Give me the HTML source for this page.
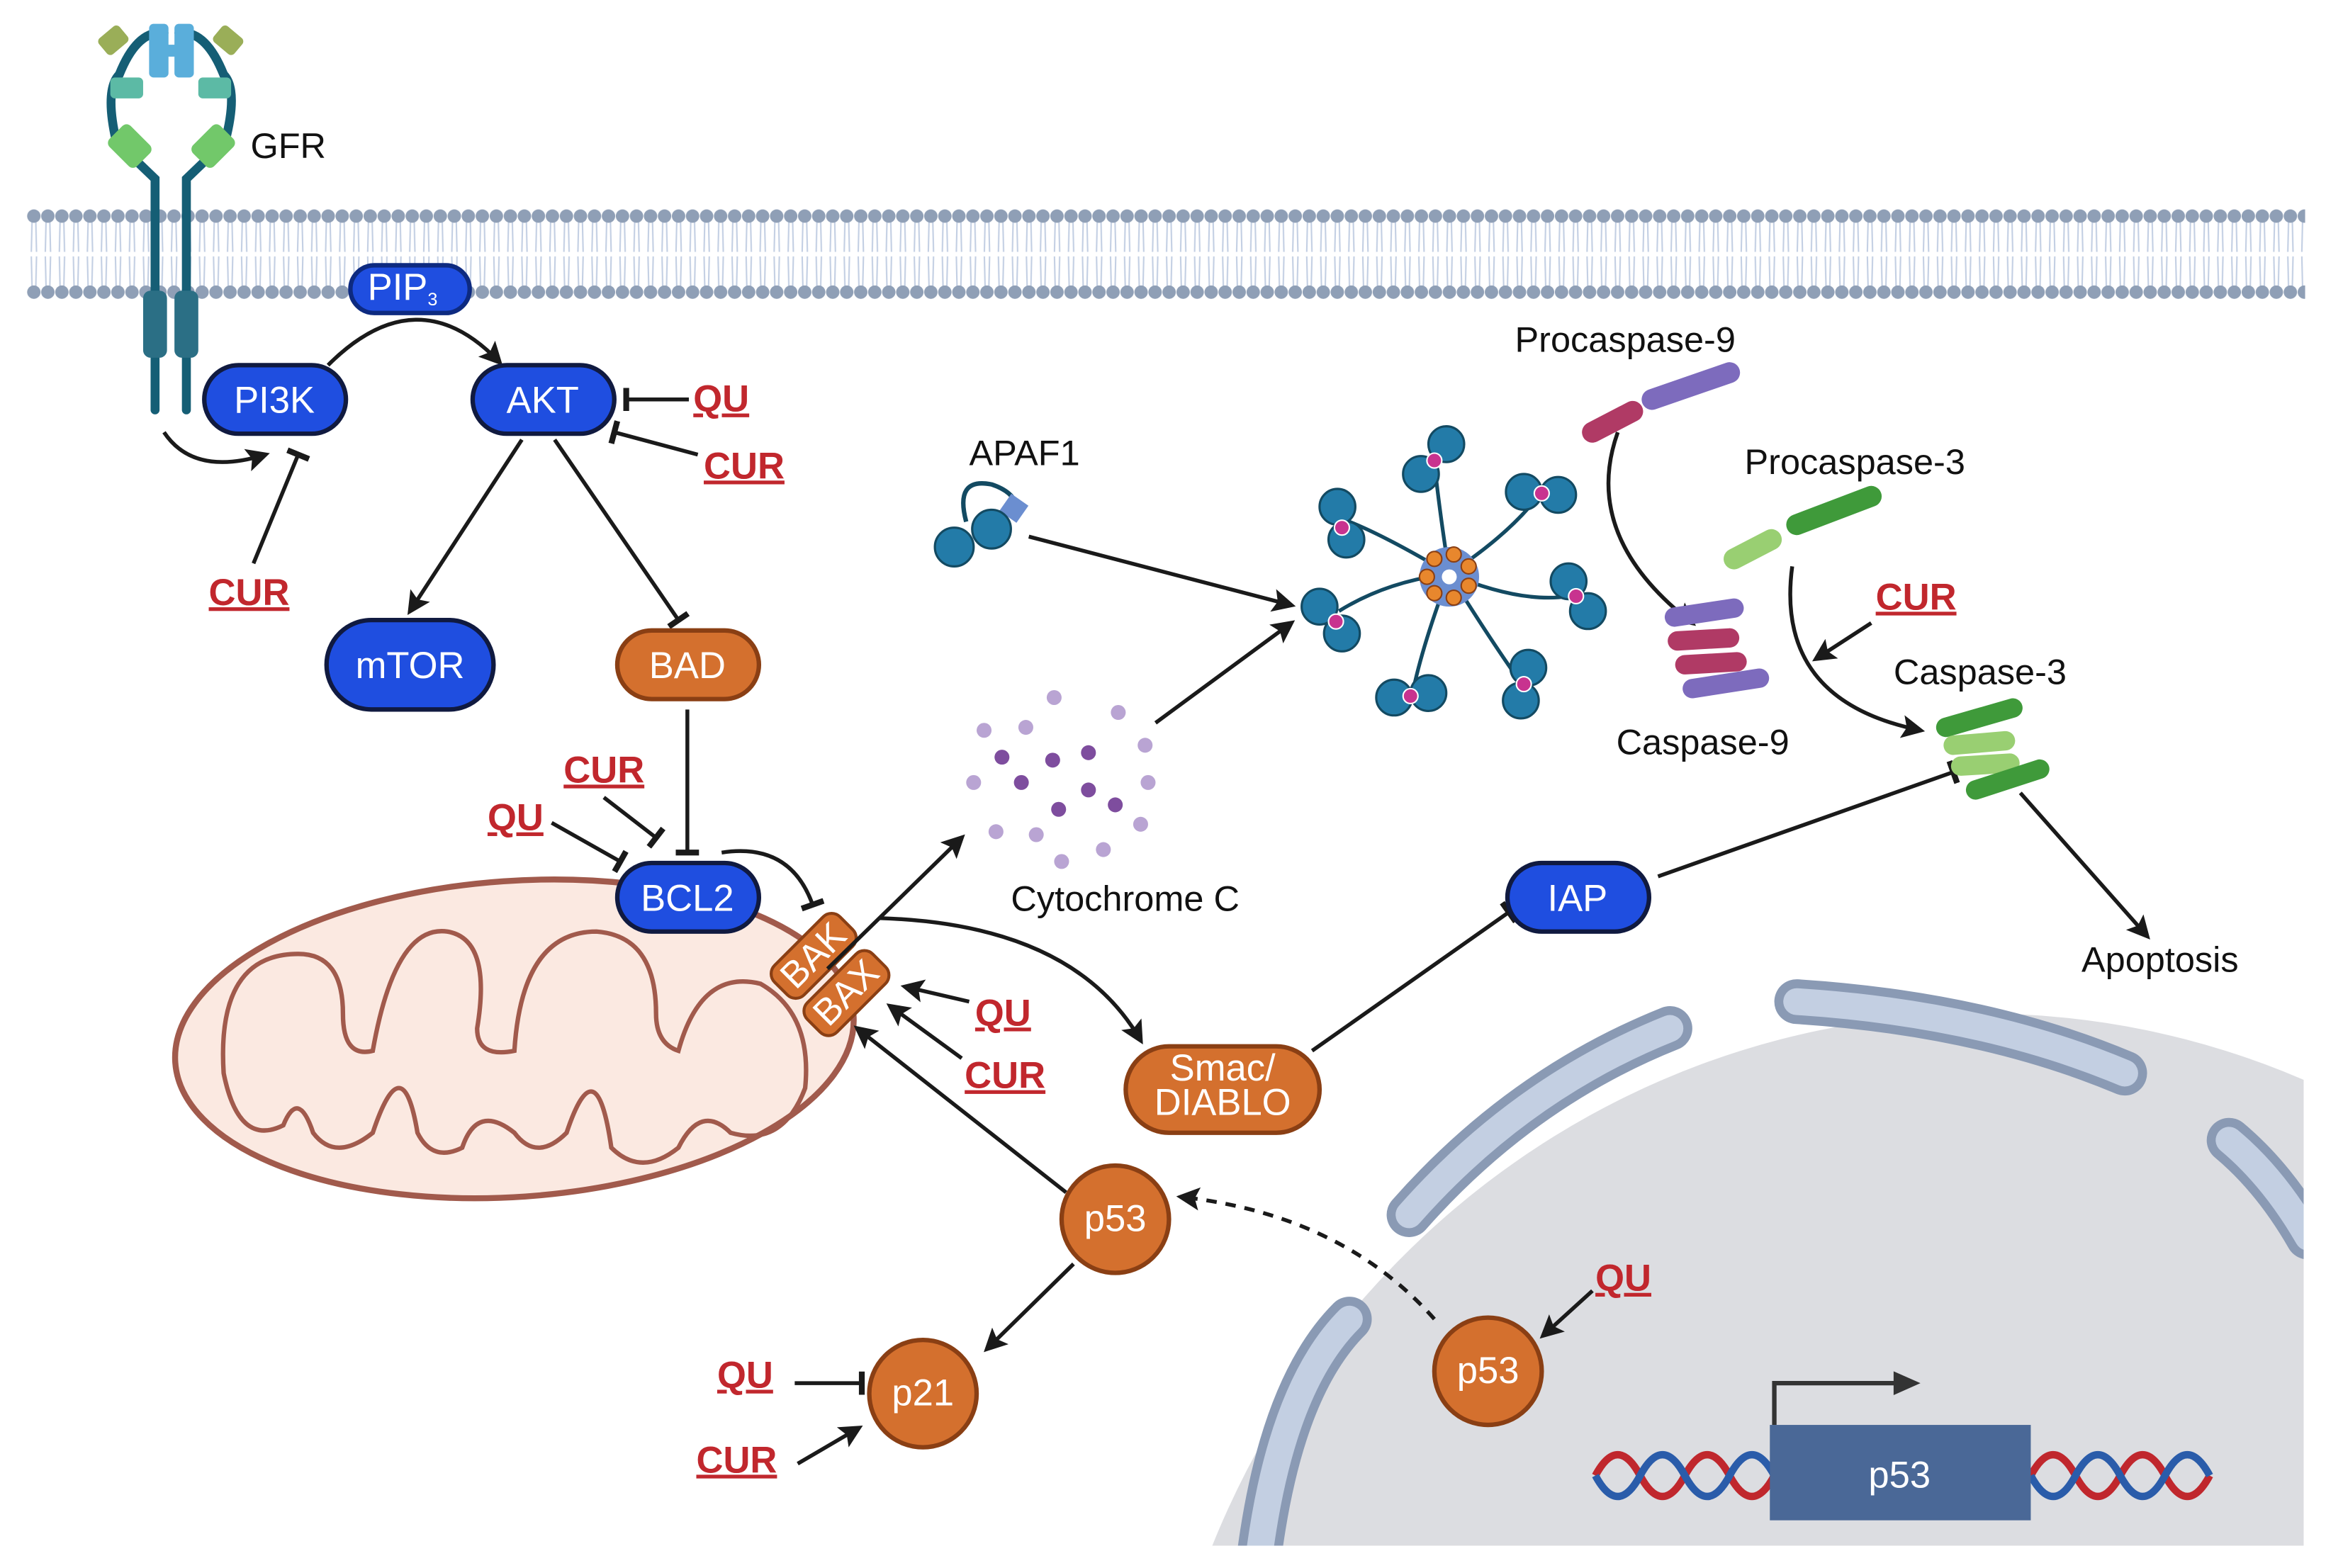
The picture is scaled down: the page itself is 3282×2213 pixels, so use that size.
<!DOCTYPE html>
<html><head><meta charset="utf-8"><style>
html,body{margin:0;padding:0;background:#fff;overflow:hidden;width:3282px;height:2213px;}
svg{display:block;}
text{font-family:"Liberation Sans",sans-serif;}
.node{font-size:25px;fill:#fff;text-anchor:middle;}
.red{font-size:25px;fill:#c1272d;font-weight:bold;text-decoration:underline;}
.lbl{font-size:24px;fill:#111;}
.ln{stroke:#1a1a1a;stroke-width:2.6;fill:none;}
</style></head><body>
<svg width="3282" height="2213" viewBox="0 0 1560 1052" preserveAspectRatio="none" xmlns="http://www.w3.org/2000/svg">
<defs>
<marker id="ar" viewBox="0 0 10 10" refX="8" refY="5" markerWidth="6" markerHeight="6" orient="auto-start-reverse" markerUnits="strokeWidth"><path d="M0,0 L10,5 L0,10 L2,5z" fill="#1a1a1a"/></marker>
<marker id="tb" viewBox="0 0 4 12" refX="2" refY="6" markerWidth="3" markerHeight="6" orient="auto" markerUnits="strokeWidth"><rect x="0.5" y="0" width="3" height="12" fill="#1a1a1a"/></marker>
<pattern id="mem" x="18" y="138" width="9.4" height="64" patternUnits="userSpaceOnUse">
<path d="M3.5,10 L3,31 M6,10 L6.5,31 M3,34 L3.5,55 M6.5,34 L6,55" stroke="#c3cfe3" stroke-width="1"/>
<circle cx="4.7" cy="7" r="4.5" fill="#8f9fb6"/><circle cx="4.7" cy="58" r="4.5" fill="#8f9fb6"/>
</pattern>
<clipPath id="clipN"><rect x="0" y="0" width="1545" height="1037"/></clipPath>
</defs>
<rect width="1560" height="1052" fill="#fff"/>
<!-- membrane -->
<rect x="18" y="138" width="1528" height="64" fill="url(#mem)"/>
<!-- nucleus -->
<g clip-path="url(#clipN)">
<ellipse cx="1330" cy="1260" rx="560" ry="580" fill="#dcdde1"/>
<g fill="none" stroke-linecap="round">
<g stroke="#8a9ab4" stroke-width="30">
<path d="M845,1040 Q860,930 905,885"/><path d="M945,815 Q1020,730 1120,690"/><path d="M1205,672 Q1330,680 1425,720"/><path d="M1495,765 Q1525,790 1548,830"/></g>
<g stroke="#c3cfe2" stroke-width="18">
<path d="M845,1040 Q860,930 905,885"/><path d="M945,815 Q1020,730 1120,690"/><path d="M1205,672 Q1330,680 1425,720"/><path d="M1495,765 Q1525,790 1548,830"/></g>
</g>
</g>
<!-- DNA -->
<g fill="none" stroke-width="5">
<path d="M1070,990 q15,-28 30,0 t30,0 t30,0 t30,0 M1362,990 q15,-28 30,0 t30,0 t30,0 t30,0" stroke="#c0272d"/>
<path d="M1070,990 q15,28 30,0 t30,0 t30,0 t30,0 M1362,990 q15,28 30,0 t30,0 t30,0 t30,0" stroke="#2a5caa"/>
</g>
<rect x="1187" y="956" width="175" height="64" fill="#4a6897"/>
<text x="1274" y="998" class="node" font-size="27">p53</text>
<path d="M1190,956 V928 H1280" stroke="#333" stroke-width="3" fill="none"/>
<path d="M1270,920 L1288,928 L1270,936z" fill="#333"/>
<!-- GFR -->
<g fill="none" stroke="#155e75" stroke-width="6" stroke-linecap="round">
<path d="M104,275 V120 L78,95 Q70,60 80,50 Q92,20 110,22"/>
<path d="M125,275 V120 L151,95 Q160,60 150,50 Q138,20 120,22"/>
</g>
<rect x="96" y="195" width="16" height="45" rx="5" fill="#2b6f85"/><rect x="117" y="195" width="16" height="45" rx="5" fill="#2b6f85"/>
<rect x="74" y="88" width="26" height="20" rx="4" fill="#72c86a" transform="rotate(45 87 98)"/>
<rect x="130" y="88" width="26" height="20" rx="4" fill="#72c86a" transform="rotate(-45 143 98)"/>
<rect x="74" y="52" width="22" height="14" rx="3" fill="#5cbaa5"/><rect x="133" y="52" width="22" height="14" rx="3" fill="#5cbaa5"/>
<rect x="100" y="16" width="13" height="36" rx="3" fill="#5aaedb"/><rect x="117" y="16" width="13" height="36" rx="3" fill="#5aaedb"/><rect x="110" y="30" width="10" height="8" fill="#5aaedb"/>
<rect x="67" y="20" width="18" height="14" rx="3" fill="#9aae58" transform="rotate(-40 76 27)"/>
<rect x="144" y="20" width="18" height="14" rx="3" fill="#9aae58" transform="rotate(40 153 27)"/>
<text x="168" y="106" class="lbl" font-size="26">GFR</text>
<!-- mitochondrion -->
<ellipse cx="345" cy="697" rx="228" ry="106" transform="rotate(-4 345 697)" fill="#fbe9e1" stroke="#a15a4c" stroke-width="4"/>
<path d="M150,720 Q145,640 200,640 Q230,640 230,680 Q230,710 250,705 Q265,620 300,625 Q330,630 320,690 Q320,710 345,705 Q350,625 400,625 Q440,628 440,680 Q440,700 455,705 Q470,650 510,660 Q545,680 540,730 Q525,770 490,760 Q470,740 455,770 Q430,790 410,770 Q400,700 380,760 Q360,780 345,760 Q320,740 310,770 Q290,780 280,760 Q270,700 250,760 Q225,780 210,760 Q200,730 190,755 Q160,770 150,720z" fill="none" stroke="#a15a4c" stroke-width="3"/>
<!-- BAK BAX -->
<g transform="rotate(-45 545 642)"><rect x="515" y="628" width="62" height="28" rx="8" fill="#d4702e" stroke="#8a3f14" stroke-width="2"/><text x="546" y="650" class="node" font-size="18">BAK</text></g>
<g transform="rotate(-45 567 667)"><rect x="537" y="653" width="62" height="28" rx="8" fill="#d4702e" stroke="#8a3f14" stroke-width="2"/><text x="568" y="675" class="node" font-size="18">BAX</text></g>
<!-- connectors -->
<path class="ln" d="M110,290 Q130,320 178,305" marker-end="url(#ar)"/>
<path class="ln" d="M220,245 Q280,185 335,243" marker-end="url(#ar)"/>
<path class="ln" d="M170,378 L200,305" marker-end="url(#tb)"/>
<path class="ln" d="M462,268 L420,268" marker-end="url(#tb)"/>
<path class="ln" d="M468,305 L412,290" marker-end="url(#tb)"/>
<path class="ln" d="M350,295 L275,410" marker-end="url(#ar)"/>
<path class="ln" d="M372,295 L455,416" marker-end="url(#tb)"/>
<path class="ln" d="M461,476 L461,572" marker-end="url(#tb)"/>
<path class="ln" d="M405,535 L440,562" marker-end="url(#tb)"/>
<path class="ln" d="M370,552 L416,578" marker-end="url(#tb)"/>
<path class="ln" d="M484,572 Q530,565 545,607" marker-end="url(#tb)"/>
<path class="ln" d="M555,650 L645,562" marker-end="url(#ar)"/>
<path class="ln" d="M590,616 Q720,620 765,698" marker-end="url(#ar)"/>
<path class="ln" d="M650,672 L607,662" marker-end="url(#ar)"/>
<path class="ln" d="M645,710 L597,675" marker-end="url(#ar)"/>
<path class="ln" d="M715,800 L575,690" marker-end="url(#ar)"/>
<path class="ln" d="M690,360 L866,406" marker-end="url(#ar)"/>
<path class="ln" d="M775,485 L866,418" marker-end="url(#ar)"/>
<path class="ln" d="M1085,290 Q1060,360 1135,418" marker-end="url(#ar)"/>
<path class="ln" d="M1202,380 Q1190,470 1288,490" marker-end="url(#ar)"/>
<path class="ln" d="M1255,418 L1218,442" marker-end="url(#ar)"/>
<path class="ln" d="M1355,532 L1440,628" marker-end="url(#ar)"/>
<path class="ln" d="M1112,588 L1310,518" marker-end="url(#tb)"/>
<path class="ln" d="M880,705 L1012,612" marker-end="url(#tb)"/>
<path class="ln" d="M962,885 Q900,815 792,803" stroke-dasharray="7,6" marker-end="url(#ar)"/>
<path class="ln" d="M1068,866 L1035,896" marker-end="url(#ar)"/>
<path class="ln" d="M720,848 L662,905" marker-end="url(#ar)"/>
<path class="ln" d="M533,928 L578,928" marker-end="url(#tb)"/>
<path class="ln" d="M535,982 L576,958" marker-end="url(#ar)"/>
<!-- nodes -->
<g stroke="#101a40" stroke-width="3">
<rect x="235" y="178" width="80" height="32" rx="16" fill="#1f4ee0" stroke="#0d2a80"/>
<rect x="137" y="245" width="95" height="46" rx="23" fill="#1f4ee0"/>
<rect x="317" y="245" width="95" height="46" rx="23" fill="#1f4ee0"/>
<rect x="219" y="416" width="112" height="60" rx="30" fill="#1f4ee0"/>
<rect x="414" y="423" width="95" height="46" rx="23" fill="#d4702e" stroke="#8a3f14"/>
<rect x="414" y="579" width="95" height="46" rx="23" fill="#1f4ee0"/>
<rect x="1011" y="579" width="95" height="46" rx="23" fill="#1f4ee0"/>
<rect x="755" y="702" width="130" height="58" rx="29" fill="#d4702e" stroke="#8a3f14"/>
<circle cx="748" cy="818" r="36" fill="#d4702e" stroke="#8a3f14"/>
<circle cx="619" cy="935" r="36" fill="#d4702e" stroke="#8a3f14"/>
<circle cx="998" cy="920" r="36" fill="#d4702e" stroke="#8a3f14"/>
</g>
<text x="270" y="201" class="node" font-size="19">PIP<tspan font-size="12" dy="4">3</tspan></text>
<text x="184" y="277" class="node">PI3K</text>
<text x="364" y="277" class="node">AKT</text>
<text x="275" y="455" class="node">mTOR</text>
<text x="461" y="455" class="node">BAD</text>
<text x="461" y="611" class="node">BCL2</text>
<text x="1058" y="611" class="node">IAP</text>
<text x="820" y="725" class="node" font-size="18">Smac/</text>
<text x="820" y="748" class="node" font-size="18">DIABLO</text>
<text x="748" y="826" class="node" font-size="22">p53</text>
<text x="619" y="943" class="node" font-size="22">p21</text>
<text x="998" y="928" class="node" font-size="22">p53</text>
<!-- red labels -->
<text x="465" y="276" class="red">QU</text>
<text x="472" y="321" class="red">CUR</text>
<text x="140" y="406" class="red">CUR</text>
<text x="378" y="525" class="red">CUR</text>
<text x="327" y="557" class="red">QU</text>
<text x="654" y="688" class="red">QU</text>
<text x="647" y="730" class="red">CUR</text>
<text x="1258" y="409" class="red">CUR</text>
<text x="1070" y="866" class="red">QU</text>
<text x="481" y="931" class="red">QU</text>
<text x="467" y="988" class="red">CUR</text>
<!-- labels -->
<text x="650" y="312" class="lbl">APAF1</text>
<text x="1016" y="236" class="lbl">Procaspase-9</text>
<text x="1170" y="318" class="lbl">Procaspase-3</text>
<text x="1084" y="506" class="lbl">Caspase-9</text>
<text x="1270" y="459" class="lbl">Caspase-3</text>
<text x="678" y="611" class="lbl" font-size="26">Cytochrome C</text>
<text x="1396" y="652" class="lbl" font-size="26">Apoptosis</text>
<!-- APAF1 -->
<path d="M648,350 Q640,320 665,325 Q680,330 682,340" fill="none" stroke="#134a62" stroke-width="3"/>
<rect x="673" y="334" width="14" height="14" fill="#6b8ed0" transform="rotate(35 680 341)"/>
<circle cx="640" cy="367" r="13" fill="#237ba8" stroke="#134a62" stroke-width="1.5"/><circle cx="665" cy="355" r="13" fill="#237ba8" stroke="#134a62" stroke-width="1.5"/>
<!-- apoptosome -->
<g stroke="#134a62" stroke-width="2.5" fill="none">
<path d="M972,385 Q965,340 962,310"/><path d="M972,385 Q1010,360 1030,335"/><path d="M972,385 Q1020,405 1052,400"/><path d="M972,385 Q1000,430 1020,458"/><path d="M972,385 Q955,430 948,462"/><path d="M972,385 Q930,390 898,410"/><path d="M972,385 Q930,360 905,350"/>
</g>
<g fill="#237ba8" stroke="#134a62" stroke-width="1.5">
<circle cx="953" cy="318" r="12"/><circle cx="970" cy="298" r="12"/>
<circle cx="1022" cy="330" r="12"/><circle cx="1045" cy="332" r="12"/>
<circle cx="1052" cy="390" r="12"/><circle cx="1065" cy="410" r="12"/>
<circle cx="1025" cy="448" r="12"/><circle cx="1020" cy="470" r="12"/>
<circle cx="935" cy="468" r="12"/><circle cx="958" cy="465" r="12"/>
<circle cx="885" cy="407" r="12"/><circle cx="900" cy="425" r="12"/>
<circle cx="897" cy="340" r="12"/><circle cx="903" cy="362" r="12"/>
</g>
<g fill="#c8338f" stroke="#fff" stroke-width="1"><circle cx="962" cy="309" r="5"/><circle cx="1034" cy="331" r="5"/><circle cx="1057" cy="400" r="5"/><circle cx="1022" cy="459" r="5"/><circle cx="946" cy="467" r="5"/><circle cx="896" cy="417" r="5"/><circle cx="900" cy="354" r="5"/></g>
<circle cx="972" cy="387" r="20" fill="#6b8ed0"/>
<g fill="#e8872d" stroke="#8a3f14" stroke-width="1"><circle cx="962" cy="375" r="5"/><circle cx="975" cy="372" r="5"/><circle cx="985" cy="380" r="5"/><circle cx="985" cy="393" r="5"/><circle cx="975" cy="401" r="5"/><circle cx="962" cy="398" r="5"/><circle cx="957" cy="387" r="5"/></g>
<circle cx="972" cy="387" r="5" fill="#fff"/>
<!-- cytochrome C dots -->
<g fill="#b9a4d3"><circle cx="707" cy="468" r="5"/><circle cx="750" cy="478" r="5"/><circle cx="660" cy="490" r="5"/><circle cx="688" cy="488" r="5"/><circle cx="768" cy="500" r="5"/><circle cx="653" cy="525" r="5"/><circle cx="770" cy="525" r="5"/><circle cx="668" cy="558" r="5"/><circle cx="712" cy="578" r="5"/><circle cx="765" cy="553" r="5"/><circle cx="740" cy="570" r="5"/><circle cx="695" cy="560" r="5"/></g>
<g fill="#7e4d9e"><circle cx="706" cy="510" r="5"/><circle cx="730" cy="505" r="5"/><circle cx="685" cy="525" r="5"/><circle cx="730" cy="530" r="5"/><circle cx="710" cy="543" r="5"/><circle cx="748" cy="540" r="5"/><circle cx="672" cy="508" r="5"/></g>
<!-- caspases -->
<g stroke-linecap="round" fill="none">
<path d="M1068,290 L1095,276" stroke="#b03a65" stroke-width="14"/><path d="M1108,268 L1160,250" stroke="#7d6bbd" stroke-width="14"/>
<path d="M1123,414 L1163,408" stroke="#7d6bbd" stroke-width="13"/><path d="M1125,430 L1160,428" stroke="#b03a65" stroke-width="13"/><path d="M1130,446 L1165,444" stroke="#b03a65" stroke-width="13"/><path d="M1135,462 L1180,455" stroke="#7d6bbd" stroke-width="13"/>
<path d="M1163,375 L1188,362" stroke="#99cf72" stroke-width="14"/><path d="M1205,352 L1255,333" stroke="#3f9a3a" stroke-width="14"/>
<path d="M1305,488 L1350,475" stroke="#3f9a3a" stroke-width="13"/><path d="M1310,500 L1345,497" stroke="#99cf72" stroke-width="13"/><path d="M1315,514 L1348,512" stroke="#99cf72" stroke-width="13"/><path d="M1325,530 L1368,516" stroke="#3f9a3a" stroke-width="13"/>
</g>
</svg>
</body></html>
